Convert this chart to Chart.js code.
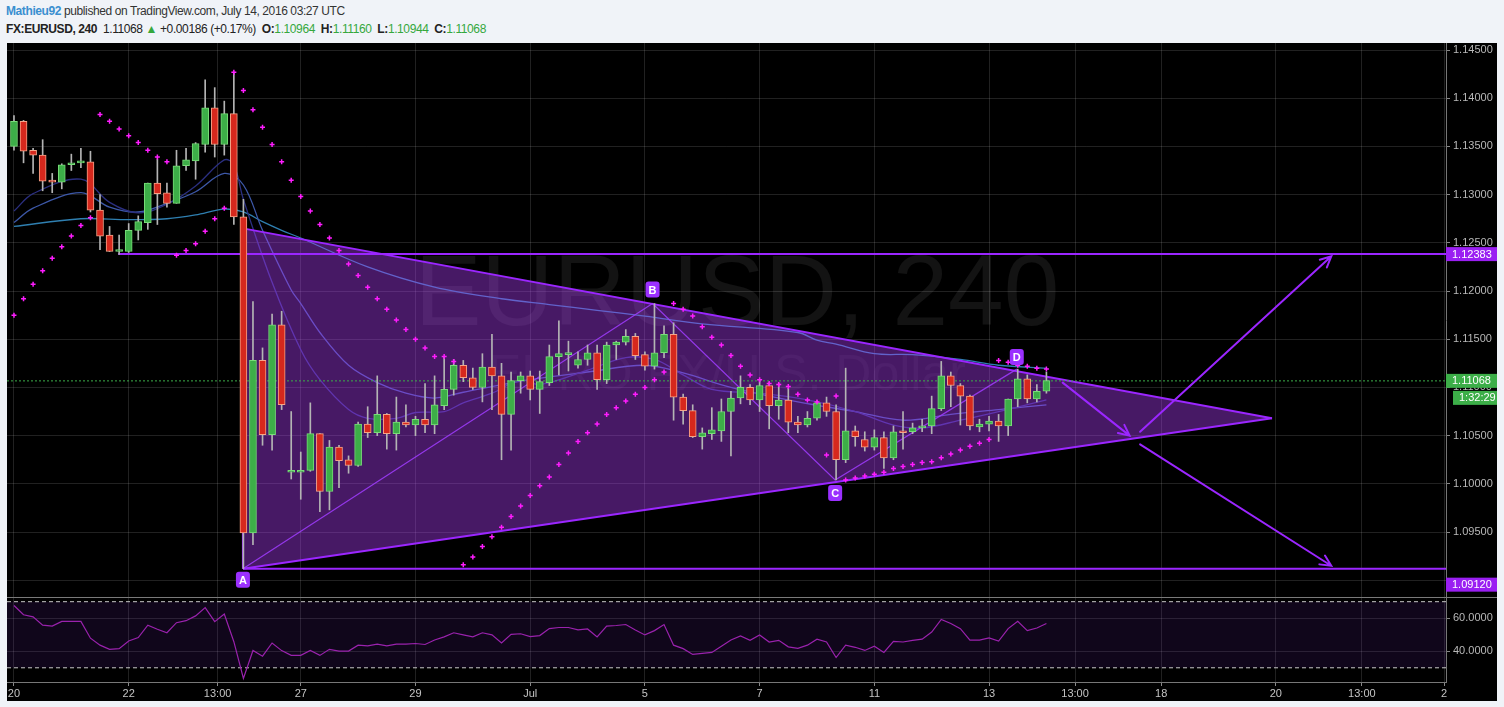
<!DOCTYPE html>
<html>
<head>
<meta charset="utf-8">
<script src="https://cdn.jsdelivr.net/npm/chart.js@4.4.1/dist/chart.umd.min.js"></script>
<style>
html,body{margin:0;padding:0;background:#f0f3f8;width:1504px;height:707px;overflow:hidden;font-family:"Liberation Sans",Arial,sans-serif;}
#hdr1{position:absolute;left:6px;top:4px;font-size:12px;letter-spacing:-0.4px;color:#333;white-space:nowrap;}
#hdr1 b{color:#3a8fd0;}
#hdr2{position:absolute;left:6px;top:22px;font-size:12px;letter-spacing:-0.4px;color:#222;white-space:nowrap;}
#hdr2 .g{color:#35a83d;}
#box{position:absolute;left:7px;top:43px;width:1490px;height:658px;background:#000;}
#sep{position:absolute;left:7px;top:597px;width:1490px;height:1px;background:#7a7a7a;}
canvas{position:absolute;left:0;top:0;}
</style>
</head>
<body>
<div id="hdr1"><b>Mathieu92</b> published on TradingView.com, July 14, 2016 03:27 UTC</div>
<div id="hdr2"><b>FX:EURUSD, 240</b>&nbsp; 1.11068 <span class="g">&#9650;</span> +0.00186 (+0.17%)&nbsp; <b>O:</b><span class="g">1.10964</span>&nbsp; <b>H:</b><span class="g">1.11160</span>&nbsp; <b>L:</b><span class="g">1.10944</span>&nbsp; <b>C:</b><span class="g">1.11068</span></div>
<div id="box"></div>
<canvas id="main" width="1504" height="707"></canvas>
<canvas id="rsi" width="1504" height="707"></canvas>
<div id="sep"></div>
<script>
// ---- data (4h candles, index 0 = Jun 20 00:00) ----
const candleOpen = [
  1.1350,1.1376,1.1346,1.1341,1.1314,1.1313,1.1331,1.1333,1.1334,1.1284,
  1.1258,1.1241,1.1241,1.1263,1.1271,1.1312,1.1302,1.1291,1.1330,1.1335,
  1.1352,1.1390,1.1352,1.1384,1.1277,1.0949,1.1128,1.1051,1.1165,1.1012,
  1.1012,1.1014,1.1052,1.0992,1.1038,1.1025,1.1019,1.1062,1.1053,1.1072,
  1.1052,1.1064,1.1061,1.1067,1.1061,1.1081,1.1098,1.1123,1.1110,1.1100,
  1.1121,1.1112,1.1072,1.1107,1.1112,1.1098,1.1105,1.1132,1.1134,1.1123,
  1.1129,1.1136,1.1108,1.1144,1.1147,1.1153,1.1134,1.1122,1.1136,1.1155,
  1.1090,1.1076,1.1049,1.1052,1.1055,1.1075,1.1089,1.1100,1.1087,1.1102,
  1.1081,1.1087,1.1064,1.1061,1.1068,1.1084,1.1075,1.1025,1.1055,1.1046,
  1.1038,1.1048,1.1027,1.1054,1.1054,1.1058,1.1060,1.1078,1.1112,1.1102,
  1.1091,1.1059,1.1062,1.1065,1.1060,1.1088,1.1109,1.1088,1.1096
];
const candleHigh = [
  1.1382,1.1377,1.1348,1.1357,1.1322,1.1332,1.1342,1.1348,1.1345,1.1300,
  1.1267,1.1258,1.1270,1.1278,1.1312,1.1337,1.1312,1.1346,1.1348,1.1354,
  1.1419,1.1411,1.1397,1.1427,1.1295,1.1189,1.1141,1.1176,1.1179,1.1075,
  1.1033,1.1084,1.1052,1.1045,1.1040,1.1029,1.1064,1.1080,1.1112,1.1073,
  1.1090,1.1082,1.1070,1.1104,1.1112,1.1132,1.1129,1.1128,1.1120,1.1135,
  1.1155,1.1125,1.1116,1.1116,1.1117,1.1117,1.1144,1.1169,1.1148,1.1137,
  1.1144,1.1144,1.1147,1.1148,1.1160,1.1156,1.1137,1.1187,1.1164,1.1167,
  1.1093,1.1082,1.1058,1.1079,1.1088,1.1096,1.1112,1.1103,1.1108,1.1105,
  1.1104,1.1099,1.1070,1.1075,1.1086,1.1090,1.1082,1.1120,1.1060,1.1054,
  1.1056,1.1054,1.1060,1.1075,1.1063,1.1067,1.1091,1.1127,1.1116,1.1104,
  1.1092,1.1067,1.1070,1.1072,1.1088,1.1119,1.1113,1.1103,1.1116
];
const candleLow = [
  1.1346,1.1333,1.1322,1.1304,1.1302,1.1306,1.1325,1.1328,1.1282,1.1243,
  1.1241,1.1238,1.1240,1.1253,1.1264,1.1269,1.1287,1.1291,1.1325,1.1316,
  1.1344,1.1339,1.1341,1.1269,1.0912,1.0937,1.1040,1.1035,1.1077,1.1005,
  1.0984,1.1013,1.0971,1.0973,1.0996,1.1011,1.1018,1.1048,1.1050,1.1036,
  1.1035,1.1059,1.1050,1.1053,1.1052,1.1077,1.1092,1.1106,1.1098,1.1085,
  1.1077,1.1025,1.1035,1.1094,1.1087,1.1073,1.1102,1.1113,1.1117,1.1120,
  1.1123,1.1098,1.1104,1.1129,1.1144,1.1129,1.1118,1.1119,1.1131,1.1066,
  1.1062,1.1048,1.1036,1.1046,1.1044,1.1029,1.1083,1.1082,1.1075,1.1057,
  1.1067,1.1053,1.1053,1.1059,1.1066,1.1070,1.1004,1.1022,1.1039,1.1034,
  1.1035,1.1016,1.1025,1.1036,1.1052,1.1054,1.1052,1.1076,1.1080,1.1061,
  1.1056,1.1054,1.1055,1.1044,1.1050,1.1080,1.1084,1.1085,1.1094
];
const candleClose = [
  1.1376,1.1345,1.1341,1.1314,1.1313,1.1331,1.1333,1.1334,1.1284,1.1257,
  1.1241,1.1242,1.1263,1.1272,1.1312,1.1301,1.1291,1.1330,1.1336,1.1353,
  1.1390,1.1352,1.1384,1.1277,1.0949,1.1128,1.1051,1.1165,1.1082,1.1013,
  1.1014,1.1052,1.0992,1.1038,1.1024,1.1019,1.1062,1.1053,1.1072,1.1052,
  1.1064,1.1061,1.1067,1.1061,1.1082,1.1098,1.1123,1.1110,1.1100,1.1121,
  1.1112,1.1072,1.1107,1.1112,1.1098,1.1106,1.1132,1.1135,1.1136,1.1129,
  1.1136,1.1108,1.1144,1.1147,1.1153,1.1133,1.1122,1.1136,1.1155,1.1090,
  1.1076,1.1049,1.1053,1.1056,1.1075,1.1089,1.1100,1.1087,1.1102,1.1081,
  1.1087,1.1064,1.1061,1.1068,1.1084,1.1075,1.1025,1.1055,1.1049,1.1038,
  1.1048,1.1027,1.1054,1.1053,1.1058,1.1060,1.1078,1.1112,1.1102,1.1091,
  1.1060,1.1062,1.1065,1.1060,1.1088,1.1109,1.1088,1.1096,1.1107
];
const sarValues = [
  1.1175,1.1192,1.1207,1.1221,1.1234,1.1246,1.1257,1.1268,1.1276,1.1383,
  1.1376,1.1368,1.1361,1.1354,1.1346,1.1339,1.1334,1.1237,1.1242,1.1249,
  1.1262,1.1275,1.1286,1.1427,1.1408,1.1388,1.1370,1.1352,1.1334,1.1315,
  1.1298,1.1283,1.1269,1.1255,1.1242,1.1228,1.1216,1.1204,1.1192,1.1181,
  1.1170,1.1160,1.1150,1.1141,1.1132,1.1132,1.1127,1.0916,1.0924,1.0935,
  1.0945,1.0955,1.0966,1.0977,1.0988,1.0998,1.1007,1.1020,1.1032,1.1044,
  1.1053,1.1062,1.1072,1.1079,1.1086,1.1093,1.1100,1.1108,1.1116,1.1187,
  1.1181,1.1174,1.1163,1.1152,1.1144,1.1133,1.1122,1.1113,1.1108,1.1104,
  1.1103,1.1101,1.1093,1.1087,1.1085,1.1030,1.1091,1.1004,1.1006,1.1008,
  1.1010,1.1012,1.1016,1.1018,1.1020,1.1022,1.1023,1.1027,1.1031,1.1035,
  1.1039,1.1042,1.1046,1.1128,1.1126,1.1123,1.1122,1.1120,1.1119
];
const rsiValues = [
  67.7,62.1,60.8,55.8,55.2,58.1,58.1,58.1,47.9,43.7,
  41.2,41.6,46.2,48.3,55.8,53.3,51.2,57.3,58.5,61.4,
  66.4,57.9,62.5,45.8,23.6,40.5,37.0,45.0,40.4,37.5,
  37.5,40.5,37.5,41.2,40.1,40.1,43.7,43.3,44.3,43.3,
  44.3,44.3,44.7,44.1,46.8,48.7,51.2,49.9,48.7,51.2,
  49.9,45.0,50.2,50.6,48.9,49.5,53.7,54.4,54.4,52.9,
  53.5,48.7,55.2,55.6,56.2,52.9,49.9,52.5,56.2,43.7,
  41.6,38.1,38.7,39.3,43.1,46.8,49.3,46.6,49.9,45.6,
  46.6,42.7,41.8,43.7,47.3,45.6,36.2,43.7,42.4,40.5,
  43.1,39.3,46.0,45.6,46.6,47.3,51.6,59.3,56.8,53.7,
  46.8,46.8,48.1,46.2,53.7,58.1,52.5,54.1,56.8
];
// moving averages, read at sparse candle indices
const maFastIdx = [0,2,7,10,13,16,19,22,23,24,27,30,32,35,37,40,42,45,47,50,53,55,60,64,67,70,73,78,83,88,92,95,99,103,108];
const maFastVal = [1.1283,1.1301,1.1316,1.1292,1.1281,1.1290,1.1309,1.1336,1.1331,1.1295,1.1209,1.1139,1.1108,1.1077,1.1068,1.1068,1.1074,1.1075,1.1084,1.1094,1.1108,1.1103,1.1118,1.1131,1.1129,1.1113,1.1098,1.1094,1.1087,1.1075,1.1061,1.1058,1.1066,1.1075,1.1087];
const maMidIdx = [0,2,7,10,13,16,19,22,24,26,29,30,32,35,38,41,44,47,54,60,66,70,75,82,88,93,98,103,108];
const maMidVal = [1.1271,1.1286,1.1302,1.1287,1.1282,1.1291,1.1303,1.1322,1.1310,1.1263,1.1201,1.1187,1.1157,1.1123,1.1105,1.1094,1.1089,1.1095,1.1108,1.1116,1.1123,1.1115,1.1100,1.1085,1.1075,1.1066,1.1072,1.1077,1.1082];
const maSlowIdx = [0,7,12,16,19,22,24,26,28,30,37,44,51,56,61,66,72,82,84,86,90,94,99,103,108];
const maSlowVal = [1.1267,1.1275,1.1274,1.1275,1.1279,1.1285,1.1282,1.1272,1.1263,1.1255,1.1225,1.1204,1.1192,1.1186,1.1180,1.1174,1.1166,1.1157,1.1149,1.1145,1.1135,1.1134,1.1129,1.1123,1.1120];

// drawings
const waveLabels = ['A','B','C','D'];
const waveIdx = [23.95, 66.8, 85.9, 104.9];
const wavePrice = [1.0912, 1.1187, 1.1004, 1.1119];
const triApexIdx = 131.6, triApexPrice = 1.1068, triTopPrice = 1.1265;
const levelUpper = 1.12383, levelUpperStart = 10.9;
const levelLower = 1.0912;
const lastPrice = 1.11068;
const countdown = '1:32:29';
const arrowFromIdx = [109.7, 117.8, 117.8];
const arrowFromPrice = [1.1105, 1.1054, 1.1041];
const arrowToIdx = [116.7, 137.8, 137.8];
const arrowToPrice = [1.1050, 1.1236, 1.0915];

// axes
const xTickIdx = [0, 12, 21.3, 30, 42, 54, 66, 78, 90, 102, 111, 120, 132, 141, 149.6];
const xTickLabels = ['20','22','13:00','27','29','Jul','5','7','11','13','13:00','18','20','13:00','2'];
const priceTicks = [1.090,1.095,1.100,1.105,1.110,1.115,1.120,1.125,1.130,1.135,1.140,1.145];
const rsiTicks = [40, 60];
const xMin = -0.73, xMax = 149.8;
const yMin = 1.08826, yMax = 1.14573;
const symbolText = 'EURUSD, 240';
const descText = 'EURO FX/U.S. Dollar';

const FONT = '"Liberation Sans", Arial, sans-serif';
const gridColor = 'rgba(255,255,255,0.13)';
const purple = '#9b26ff';
const idx = candleOpen.map((_, i) => i);
const up = idx.map(i => candleClose[i] >= candleOpen[i]);

const overlay = {
  id: 'overlay',
  beforeDatasetsDraw(chart) {
    const { ctx, chartArea: a } = chart;
    ctx.save();
    ctx.beginPath(); ctx.rect(a.left, a.top, a.right - a.left, a.bottom - a.top); ctx.clip();
    ctx.textAlign = 'center';
    ctx.fillStyle = 'rgba(255,255,255,0.075)';
    ctx.font = '100px ' + FONT;
    ctx.fillText(symbolText, a.left + 730, a.top + 282);
    ctx.fillStyle = 'rgba(255,255,255,0.05)';
    ctx.font = '50px ' + FONT;
    ctx.fillText(descText, a.left + 720, a.top + 347);
    ctx.restore();
  },
  afterDatasetsDraw(chart) {
    const { ctx } = chart;
    const xs = chart.scales.x, ys = chart.scales.y;
    ctx.save();
    ctx.strokeStyle = purple; ctx.lineWidth = 2; ctx.lineCap = 'round';
    arrowFromIdx.forEach((_, i) => {
      const x1 = xs.getPixelForValue(arrowFromIdx[i]), y1 = ys.getPixelForValue(arrowFromPrice[i]);
      const x2 = xs.getPixelForValue(arrowToIdx[i]), y2 = ys.getPixelForValue(arrowToPrice[i]);
      const ang = Math.atan2(y2 - y1, x2 - x1);
      ctx.beginPath(); ctx.moveTo(x1, y1); ctx.lineTo(x2, y2);
      ctx.moveTo(x2 - 12 * Math.cos(ang - 0.45), y2 - 12 * Math.sin(ang - 0.45));
      ctx.lineTo(x2, y2);
      ctx.lineTo(x2 - 12 * Math.cos(ang + 0.45), y2 - 12 * Math.sin(ang + 0.45));
      ctx.stroke();
    });
    const off = [11, -14, 13, -12];
    ctx.font = 'bold 11px ' + FONT; ctx.textAlign = 'center'; ctx.textBaseline = 'middle';
    waveLabels.forEach((t, i) => {
      const x = xs.getPixelForValue(waveIdx[i]), y = ys.getPixelForValue(wavePrice[i]) + off[i];
      ctx.fillStyle = '#9b30ff';
      ctx.beginPath(); ctx.roundRect(x - 7, y - 8, 14, 16, 3); ctx.fill();
      ctx.fillStyle = '#fff'; ctx.fillText(t, x, y + 1);
    });
    ctx.restore();
  },
  afterDraw(chart) {
    const { ctx } = chart;
    const ys = chart.scales.y;
    const right = chart.width - 7;
    const tag = (y, x0, text, bg) => {
      ctx.fillStyle = bg; ctx.fillRect(x0, y - 7, right - x0, 14);
      ctx.fillStyle = '#fff'; ctx.fillText(text, x0 + 6, y + 0.5);
    };
    ctx.save();
    ctx.font = '11px ' + FONT; ctx.textBaseline = 'middle'; ctx.textAlign = 'left';
    const left = ys.left;
    tag(ys.getPixelForValue(levelUpper), left, levelUpper.toFixed(5), '#9a1ff2');
    const yl = ys.getPixelForValue(lastPrice);
    tag(yl, left, lastPrice.toFixed(5), '#3cae48');
    tag(yl + 17, left + 7, countdown, '#3cae48');
    tag(ys.getPixelForValue(levelLower) + 16, left, levelLower.toFixed(5), '#9a1ff2');
    ctx.restore();
  }
};

const line = (data, color, order, extra) => Object.assign({
  type: 'line', data, borderColor: color, borderWidth: 1.3, pointRadius: 0, fill: false, order
}, extra || {});

new Chart(document.getElementById('main'), {
  type: 'bar',
  data: {
    datasets: [
      line(maSlowIdx.map((x, i) => ({ x, y: maSlowVal[i] })), '#2f7fb0', 30, { tension: 0.35 }),
      line(maMidIdx.map((x, i) => ({ x, y: maMidVal[i] })), '#3d58a8', 29, { tension: 0.35 }),
      line(maFastIdx.map((x, i) => ({ x, y: maFastVal[i] })), '#2b2f80', 28, { tension: 0.35 }),
      line([{ x: waveIdx[0], y: triTopPrice }, { x: triApexIdx, y: triApexPrice }], purple, 21,
        { borderWidth: 2, fill: '+1', backgroundColor: 'rgba(170,60,240,0.42)' }),
      line([{ x: waveIdx[0], y: levelLower }, { x: triApexIdx, y: triApexPrice }], purple, 20, { borderWidth: 2 }),
      line([{ x: waveIdx[0], y: levelLower }, { x: waveIdx[0], y: triTopPrice }], purple, 20, { borderWidth: 2 }),
      line(waveIdx.map((x, i) => ({ x, y: wavePrice[i] })), 'rgba(160,60,255,0.85)', 15, { borderWidth: 1.2 }),
      line([{ x: levelUpperStart, y: levelUpper }, { x: xMax, y: levelUpper }], purple, 12, { borderWidth: 2 }),
      line([{ x: waveIdx[0], y: levelLower }, { x: xMax, y: levelLower }], purple, 12, { borderWidth: 2 }),
      line([{ x: xMin, y: lastPrice }, { x: xMax, y: lastPrice }], '#3cae48', 11, { borderWidth: 1, borderDash: [2, 2] }),
      {
        type: 'bar', data: idx.map(i => ({ x: i, y: [candleLow[i], candleHigh[i]] })),
        backgroundColor: '#b4b4b4', barThickness: 1, grouped: false, order: 5
      },
      {
        type: 'bar', data: idx.map(i => ({ x: i, y: [candleOpen[i], candleClose[i]] })),
        backgroundColor: up.map(u => u ? '#3dae48' : '#d6281d'),
        borderColor: up.map(u => u ? '#78dc78' : '#f5a488'),
        borderWidth: 1, borderSkipped: false, barThickness: 7, minBarLength: 2, grouped: false, order: 4
      },
      line(idx.map(i => ({ x: i, y: sarValues[i] })), '#ff1cff', 1, {
        showLine: false, pointRadius: 2.5, pointStyle: 'cross', pointBorderColor: '#ff1cff', pointBorderWidth: 1.5
      })
    ]
  },
  options: {
    responsive: false, animation: false,
    layout: { padding: { left: 7, right: 7, top: 43, bottom: 110 } },
    plugins: { legend: { display: false }, tooltip: { enabled: false } },
    scales: {
      x: {
        type: 'linear', min: xMin, max: xMax, offset: false,
        afterBuildTicks: s => { s.ticks = xTickIdx.map(v => ({ value: v })); },
        afterFit: s => { s.height = 0; },
        ticks: { display: false },
        grid: { color: gridColor, drawTicks: false, offset: false },
        border: { display: false }
      },
      y: {
        position: 'right', min: yMin, max: yMax,
        afterBuildTicks: s => { s.ticks = priceTicks.map(v => ({ value: v })); },
        afterFit: s => { s.width = 51; },
        ticks: {
          color: '#b8b8b8', font: { size: 11, family: FONT }, padding: 3,
          callback: v => Math.abs(v - 1.09) < 1e-6 ? '' : v.toFixed(5)
        },
        grid: { color: gridColor, tickLength: 4, tickColor: '#888' },
        border: { color: '#777' }
      }
    }
  },
  plugins: [overlay]
});

new Chart(document.getElementById('rsi'), {
  type: 'line',
  data: {
    datasets: [
      line([{ x: xMin, y: 70 }, { x: xMax, y: 70 }], '#c8c8c8', 5,
        { borderWidth: 1, borderDash: [4, 3], fill: '+1', backgroundColor: 'rgba(100,40,170,0.16)' }),
      line([{ x: xMin, y: 30 }, { x: xMax, y: 30 }], '#c8c8c8', 4, { borderWidth: 1, borderDash: [4, 3] }),
      line(idx.map(i => ({ x: i, y: rsiValues[i] })), '#9a22ad', 1, { borderWidth: 1.2 })
    ]
  },
  options: {
    responsive: false, animation: false,
    layout: { padding: { left: 7, right: 7, top: 598, bottom: 6 } },
    plugins: { legend: { display: false }, tooltip: { enabled: false } },
    scales: {
      x: {
        type: 'linear', min: xMin, max: xMax, offset: false,
        afterBuildTicks: s => { s.ticks = xTickIdx.map(v => ({ value: v })); },
        afterFit: s => { s.height = 19; },
        ticks: {
          color: '#c4c4c4', font: { size: 11, family: FONT }, padding: 1,
          autoSkip: false, maxRotation: 0, callback: (v, i) => xTickLabels[i]
        },
        grid: { color: gridColor, tickLength: 4, tickColor: '#888' },
        border: { color: '#777' }
      },
      y: {
        position: 'right', min: 21.4, max: 72.24,
        afterBuildTicks: s => { s.ticks = rsiTicks.map(v => ({ value: v })); },
        afterFit: s => { s.width = 51; },
        ticks: { color: '#b8b8b8', font: { size: 11, family: FONT }, padding: 3, callback: v => v.toFixed(4) },
        grid: { color: gridColor, tickLength: 4, tickColor: '#888' },
        border: { color: '#777' }
      }
    }
  }
});
</script>
</body>
</html>
